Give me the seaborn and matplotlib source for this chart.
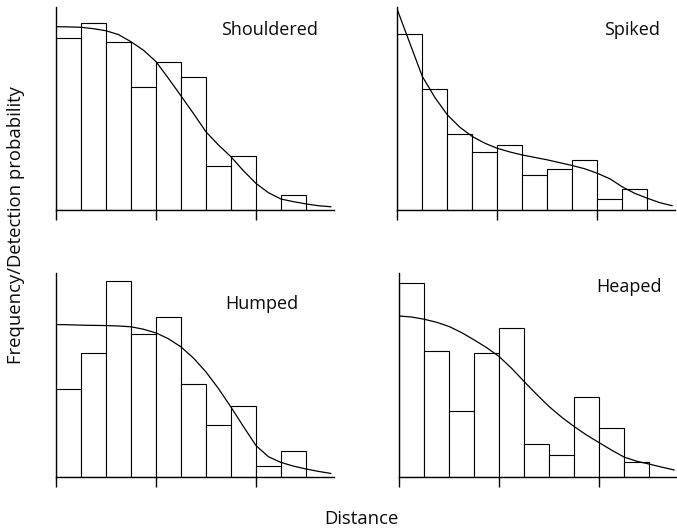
import numpy as np
import matplotlib
matplotlib.use("Agg")
import matplotlib.pyplot as plt
import seaborn as sns

# Histogram bins (distance units) shared by all four panels
bin_edges = [0.0, 0.25, 0.5, 0.75, 1.0, 1.25, 1.5, 1.75, 2.0, 2.25, 2.5]
bin_mids = [0.125, 0.375, 0.625, 0.875, 1.125, 1.375, 1.625, 1.875, 2.125, 2.375]

# Observed frequencies per bin
freq_shouldered = [84.9, 92.3, 82.6, 60.7, 73.0, 65.6, 21.8, 26.7, 0.0, 7.4]
freq_spiked = [86.8, 59.4, 37.2, 28.6, 32.2, 17.3, 20.2, 24.5, 5.4, 10.2]
freq_humped = [43.3, 60.9, 96.2, 70.4, 78.3, 45.7, 25.3, 34.7, 5.1, 12.7]
freq_heaped = [95.4, 62.0, 32.5, 60.7, 73.0, 15.9, 10.7, 39.0, 23.9, 7.4]

# Fitted detection functions
curve_x = [0.0, 0.125, 0.25, 0.375, 0.5, 0.625, 0.75, 0.875, 1.0, 1.125, 1.25,
           1.375, 1.5, 1.625, 1.75, 1.875, 2.0, 2.125, 2.25, 2.375, 2.5, 2.625, 2.75]
curve_shouldered = [90.3, 90.2, 90.0, 89.3, 88.3, 86.4, 82.9, 78.7, 73.1, 64.8, 56.2,
                    47.5, 38.5, 32.0, 26.2, 19.3, 13.1, 8.5, 5.4, 4.1, 3.0, 2.1, 1.6]
curve_spiked = [98.7, 82.2, 65.8, 55.5, 46.9, 40.8, 36.2, 32.9, 30.4, 28.6, 27.1,
                25.9, 24.7, 23.3, 21.9, 20.3, 18.1, 15.4, 11.4, 8.2, 5.8, 3.6, 2.1]
curve_humped = [74.8, 74.7, 74.5, 74.4, 74.3, 74.1, 73.7, 72.5, 70.7, 67.8, 63.8,
                58.3, 51.5, 43.3, 34.2, 24.6, 15.3, 9.8, 7.0, 5.2, 3.8, 2.6, 1.6]
curve_heaped = [79.0, 78.5, 77.4, 75.9, 73.8, 70.8, 67.2, 63.4, 59.0, 53.2, 46.7,
                40.4, 34.4, 29.2, 24.6, 20.4, 16.7, 13.0, 9.6, 7.6, 6.2, 4.7, 3.3]

panel_names = ["Shouldered", "Spiked", "Humped", "Heaped"]
panel_freqs = [freq_shouldered, freq_spiked, freq_humped, freq_heaped]
panel_curves = [curve_shouldered, curve_spiked, curve_humped, curve_heaped]
x_ticks = [0, 1, 2]

sns.set_theme(style="ticks")
plt.rcParams["font.family"] = ["Open Sans", "DejaVu Sans"]

fig = plt.figure(figsize=(6.77, 5.30), dpi=100)
W, H = 677.0, 530.0
boxes = [
    [56 / W, 1 - 210 / H, 278 / W, 203 / H],
    [397.3 / W, 1 - 210 / H, 278 / W, 203 / H],
    [56 / W, 1 - 476.7 / H, 278 / W, 203.4 / H],
    [399.3 / W, 1 - 476.7 / H, 278 / W, 203.4 / H],
]
# label anchor (right edge x, centre y) in data units
label_pos = [(2.62, 88.7), (2.63, 88.7), (2.42, 85.0), (2.62, 93.3)]

for box, name, freq, curve, lp in zip(boxes, panel_names, panel_freqs, panel_curves, label_pos):
    ax = fig.add_axes(box)
    sns.histplot(x=bin_mids, weights=freq, bins=bin_edges, ax=ax,
                 color="white", edgecolor="black", linewidth=0.8, alpha=1.0)
    sns.lineplot(x=curve_x, y=curve, ax=ax, color="black", linewidth=0.9,
                 estimator=None, sort=False)
    ax.set_xlim(0, 2.78)
    ax.set_ylim(0, 100)
    ax.set_xticks(x_ticks)
    ax.set_xticklabels([])
    ax.set_yticks([])
    ax.set_xlabel("")
    ax.set_ylabel("")
    ax.tick_params(axis="x", direction="out", length=7.2, width=1.0, color="black")
    for side in ("top", "right"):
        ax.spines[side].set_visible(False)
    for side in ("left", "bottom"):
        ax.spines[side].set_linewidth(1.0)
        ax.spines[side].set_color("black")
    ax.set_facecolor("white")
    ax.text(lp[0], lp[1], name, ha="right", va="center", fontsize=13, color="#0a0a0a")

fig.text(16.5 / W, 1 - 225 / H, "Frequency/Detection probability", rotation=90,
         ha="center", va="center", fontsize=13.3, color="#0a0a0a")
fig.text(361.5 / W, 1 - 518.5 / H, "Distance", ha="center", va="center",
         fontsize=13.3, color="#0a0a0a")

fig.savefig("out.png", dpi=100, facecolor="white")
